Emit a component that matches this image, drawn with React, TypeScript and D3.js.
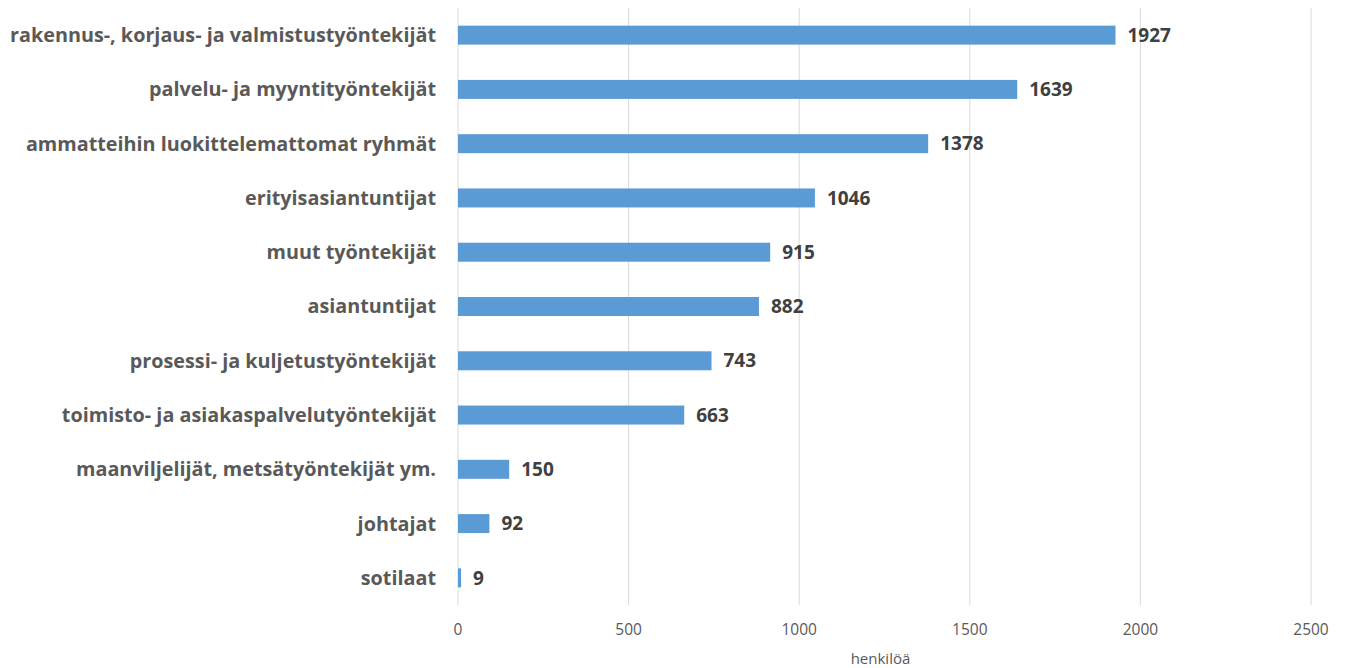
import React from "react";
import * as d3 from "d3";

const categories = [
  "rakennus-, korjaus- ja valmistustyöntekijät",
  "palvelu- ja myyntityöntekijät",
  "ammatteihin luokittelemattomat ryhmät",
  "erityisasiantuntijat",
  "muut työntekijät",
  "asiantuntijat",
  "prosessi- ja kuljetustyöntekijät",
  "toimisto- ja asiakaspalvelutyöntekijät",
  "maanviljelijät, metsätyöntekijät ym.",
  "johtajat",
  "sotilaat",
];
const values = [1927, 1639, 1378, 1046, 915, 882, 743, 663, 150, 92, 9];
const ticks = [0, 500, 1000, 1500, 2000, 2500];
const axisTitle = "henkilöä";

const W = 1351;
const H = 668;
const left = 458;
const right = 1311;
const top = 8;
const bottom = 605;

export default function App() {
  const x = d3.scaleLinear().domain([0, 2500]).range([left, right]);
  const y = d3
    .scaleBand<string>()
    .domain(categories)
    .range([top, bottom])
    .paddingInner(0.65)
    .paddingOuter(0.325);
  const font = "'Open Sans', 'DejaVu Sans', sans-serif";
  return (
    <svg
      width={W}
      height={H}
      style={{ position: "absolute", left: 0, top: 0, background: "#fff" }}
    >
      {ticks.map((t) => (
        <line
          key={"g" + t}
          x1={x(t)}
          x2={x(t)}
          y1={top}
          y2={bottom}
          stroke="#d9d9d9"
          strokeWidth={1}
        />
      ))}
      {categories.map((c, i) => {
        const yy = y(c)!;
        const bw = y.bandwidth();
        return (
          <g key={c}>
            <rect
              x={x(0)}
              y={yy}
              width={Math.max(0, x(values[i]) - x(0))}
              height={bw}
              fill="#5b9bd5"
            />
            <text
              x={left - 22}
              y={yy + bw / 2}
              dy="0.35em"
              textAnchor="end"
              fontFamily={font}
              fontWeight={700}
              fontSize={19.8}
              fill="#595959"
            >
              {c}
            </text>
            <text
              x={x(values[i]) + 12}
              y={yy + bw / 2}
              dy="0.35em"
              textAnchor="start"
              fontFamily={font}
              fontWeight={700}
              fontSize={19}
              fill="#404040"
            >
              {values[i]}
            </text>
          </g>
        );
      })}
      {ticks.map((t) => (
        <text
          key={"t" + t}
          x={x(t)}
          y={630}
          dy="0.35em"
          textAnchor="middle"
          fontFamily={font}
          fontSize={15.5}
          fill="#595959"
        >
          {t}
        </text>
      ))}
      <text
        x={(left + right) / 2 - 4}
        y={659}
        dy="0.35em"
        textAnchor="middle"
        fontFamily={font}
        fontSize={15}
        fill="#595959"
      >
        {axisTitle}
      </text>
    </svg>
  );
}
